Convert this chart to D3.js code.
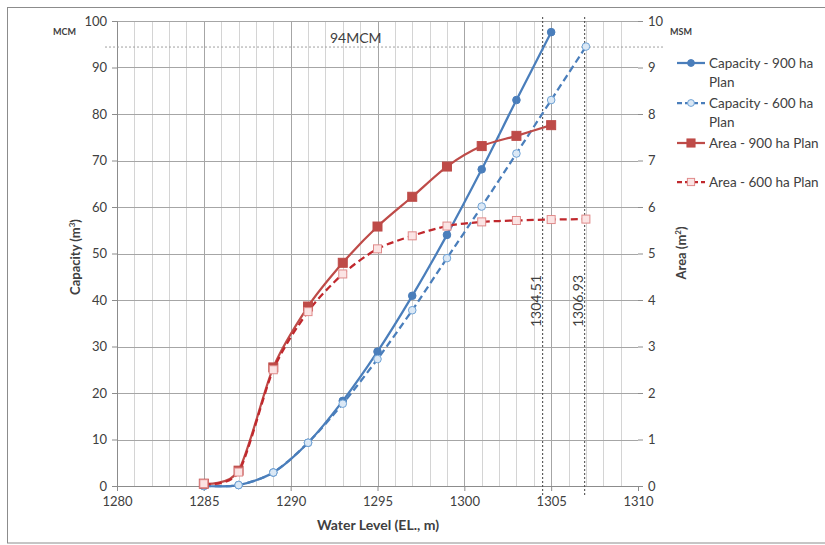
<!DOCTYPE html>
<html>
<head>
<meta charset="utf-8">
<script src="https://cdn.jsdelivr.net/npm/d3@7"></script>
<style>
  body { margin: 0; background: #fff; }
  svg text { font-family: Lato, "Open Sans", sans-serif; fill: #404040; }
</style>
</head>
<body>
<div id="chart"></div>
<script>
var svgWidth = 825;
var svgHeight = 545;

var margin = { top: 21, right: 187, bottom: 59, left: 117 };
var width = svgWidth - margin.left - margin.right;
var height = svgHeight - margin.top - margin.bottom;

// data
var levels = [1285, 1287, 1289, 1291, 1293, 1295, 1297, 1299, 1301, 1303, 1305, 1307];
var capacity900 = [0, 0.2, 2.9, 9.3, 18.3, 28.9, 40.9, 54.0, 68.1, 83.0, 97.6];
var capacity600 = [0, 0.2, 2.9, 9.3, 17.7, 27.3, 37.8, 49.0, 60.1, 71.5, 83.0, 94.5];
var area900 = [0.05, 0.33, 2.55, 3.86, 4.8, 5.58, 6.22, 6.87, 7.31, 7.53, 7.76];
var area600 = [0.05, 0.3, 2.5, 3.75, 4.56, 5.1, 5.38, 5.59, 5.68, 5.71, 5.73, 5.74];

var xTicks = [1280, 1285, 1290, 1295, 1300, 1305, 1310];
var leftTicks = [0, 10, 20, 30, 40, 50, 60, 70, 80, 90, 100];
var rightTicks = [0, 1, 2, 3, 4, 5, 6, 7, 8, 9, 10];
var refCapacity = 94.4;
var refLevels = [1304.51, 1306.93];
var refLevelLabels = ["1304.51", "1306.93"];

var series = [
  { name: ["Capacity - 900 ha", "Plan"], values: capacity900, axis: "left", color: "#4a7ebb", dash: null, marker: "circle", fill: "#4a7ebb", mstroke: "#4a7ebb" },
  { name: ["Capacity - 600 ha", "Plan"], values: capacity600, axis: "left", color: "#4a7ebb", dash: "7,4", marker: "circle", fill: "#dbe8f5", mstroke: "#6fa3d6" },
  { name: ["Area - 900 ha Plan"], values: area900, axis: "right", color: "#be4b48", dash: null, marker: "square", fill: "#be4b48", mstroke: "#be4b48" },
  { name: ["Area - 600 ha Plan"], values: area600, axis: "right", color: "#c0282d", dash: "7,4", marker: "square", fill: "#fbe4e4", mstroke: "#e08a8a" }
];

var svg = d3.select("#chart").append("svg")
    .attr("width", svgWidth)
    .attr("height", svgHeight);

// outer frame
svg.append("rect")
    .attr("x", 7.5).attr("y", 7.5)
    .attr("width", 830).attr("height", 535.5)
    .attr("fill", "none")
    .attr("stroke", "#8c8c8c");

var chartGroup = svg.append("g")
    .attr("transform", `translate(${margin.left}, ${margin.top})`);

var xScale = d3.scaleLinear().domain([1280, 1310]).range([0, width]);
var yLeft = d3.scaleLinear().domain([0, 100]).range([height, 0]);
var yRight = d3.scaleLinear().domain([0, 10]).range([height, 0]);

// vertical grid (minor every 1, major every 5)
chartGroup.append("g").selectAll("line")
    .data(d3.range(1281, 1310))
    .enter().append("line")
    .attr("x1", d => Math.round(xScale(d)) + 0.5)
    .attr("x2", d => Math.round(xScale(d)) + 0.5)
    .attr("y1", 0).attr("y2", height)
    .attr("stroke", d => d % 5 === 0 ? "#a6a6a6" : "#d4d4d4");

// horizontal grid
chartGroup.append("g").selectAll("line")
    .data(leftTicks.slice(1))
    .enter().append("line")
    .attr("x1", 0).attr("x2", width)
    .attr("y1", d => Math.round(yLeft(d)) + 0.5)
    .attr("y2", d => Math.round(yLeft(d)) + 0.5)
    .attr("stroke", "#a6a6a6");

// axes
var bottomAxis = d3.axisBottom(xScale).tickValues(xTicks).tickFormat(d3.format("d")).tickSize(5).tickPadding(6);
var leftAxis = d3.axisLeft(yLeft).tickValues(leftTicks).tickSize(5).tickPadding(5);
var rightAxis = d3.axisRight(yRight).tickValues(rightTicks).tickSize(5).tickPadding(5);

var xAxis = chartGroup.append("g")
    .attr("transform", `translate(0,${height})`)
    .call(bottomAxis);
var yAxisL = chartGroup.append("g").call(leftAxis);
var yAxisR = chartGroup.append("g")
    .attr("transform", `translate(${width},0)`)
    .call(rightAxis);

[xAxis, yAxisL, yAxisR].forEach(function(a) {
  a.selectAll(".domain").attr("stroke", "#8c8c8c");
  a.selectAll(".tick line").attr("stroke", "#8c8c8c");
  a.selectAll("text")
    .attr("font-size", "13px")
    .style("font-family", "Lato, 'Open Sans', sans-serif")
    .attr("fill", "#4d4d4d");
});
yAxisR.select(".domain").remove();

// reference line 94MCM
chartGroup.append("line")
    .attr("x1", -12).attr("x2", width + 25)
    .attr("y1", yLeft(refCapacity)).attr("y2", yLeft(refCapacity))
    .attr("stroke", "#a0a0a0")
    .attr("stroke-dasharray", "2,2");
chartGroup.append("text")
    .attr("x", 213)
    .attr("y", yLeft(refCapacity) - 4)
    .attr("font-size", "14px")
    .attr("fill", "#555")
    .text("94MCM");

// vertical reference levels
refLevels.forEach(function(lv, i) {
  var x = xScale(lv);
  chartGroup.append("line")
      .attr("x1", x).attr("x2", x)
      .attr("y1", -4).attr("y2", height + 9)
      .attr("stroke", "#404040")
      .attr("stroke-dasharray", "2,2");
  chartGroup.append("text")
      .attr("transform", `translate(${x - 2},${306}) rotate(-90)`)
      .attr("text-anchor", "start")
      .attr("font-size", "14px")
      .text(refLevelLabels[i]);
});

// series lines
series.forEach(function(s) {
  var y = s.axis === "left" ? yLeft : yRight;
  var pts = s.values.map((v, i) => [levels[i], v]);
  var line = d3.line()
      .x(d => xScale(d[0]))
      .y(d => y(d[1]))
      .curve(d3.curveCardinal.tension(0.2));
  chartGroup.append("path")
      .datum(pts)
      .attr("d", line)
      .attr("fill", "none")
      .attr("stroke", s.color)
      .attr("stroke-width", 2.25)
      .attr("stroke-dasharray", s.dash);
});

function drawMarker(g, s, cx, cy, scale) {
  if (s.marker === "circle") {
    g.append("circle")
        .attr("cx", cx).attr("cy", cy)
        .attr("r", 3.8 * scale)
        .attr("fill", s.fill)
        .attr("stroke", s.mstroke)
        .attr("stroke-width", 1);
  } else {
    var sz = (s.fill === s.mstroke ? 9 : 8) * scale;
    g.append("rect")
        .attr("x", cx - sz / 2).attr("y", cy - sz / 2)
        .attr("width", sz).attr("height", sz)
        .attr("fill", s.fill)
        .attr("stroke", s.mstroke)
        .attr("stroke-width", 1);
  }
}

series.forEach(function(s) {
  var y = s.axis === "left" ? yLeft : yRight;
  var g = chartGroup.append("g");
  s.values.forEach(function(v, i) {
    drawMarker(g, s, xScale(levels[i]), y(v), 1);
  });
});

// axis titles
svg.append("text")
    .attr("transform", "translate(80,257) rotate(-90)")
    .attr("text-anchor", "middle")
    .attr("font-size", "13px")
    .attr("font-weight", "bold")
    .html("Capacity (m<tspan dy='-5' font-size='8px'>3</tspan><tspan dy='5'>)</tspan>");
svg.append("text")
    .attr("transform", "translate(686,253) rotate(-90)")
    .attr("text-anchor", "middle")
    .attr("font-size", "13px")
    .attr("font-weight", "bold")
    .html("Area (m<tspan dy='-5' font-size='8px'>2</tspan><tspan dy='5'>)</tspan>");
svg.append("text")
    .attr("x", 378).attr("y", 530)
    .attr("text-anchor", "middle")
    .attr("font-size", "14px")
    .attr("font-weight", "bold")
    .text("Water Level (EL., m)");
svg.append("text")
    .attr("x", 53).attr("y", 35)
    .attr("font-size", "9px")
    .attr("font-weight", "bold")
    .text("MCM");
svg.append("text")
    .attr("x", 670).attr("y", 35)
    .attr("font-size", "9px")
    .attr("font-weight", "bold")
    .text("MSM");

// legend
var legendY = [63, 103, 143, 182];
var legend = svg.append("g");
series.forEach(function(s, i) {
  var ly = legendY[i];
  legend.append("line")
      .attr("x1", 677).attr("x2", 705)
      .attr("y1", ly).attr("y2", ly)
      .attr("stroke", s.color)
      .attr("stroke-width", 2.25)
      .attr("stroke-dasharray", s.dash ? "5,3" : null);
  drawMarker(legend, s, 691, ly, 0.9);
  s.name.forEach(function(t, j) {
    legend.append("text")
        .attr("x", 709)
        .attr("y", ly + 5 + j * 19)
        .attr("font-size", "13.5px")
        .text(t);
  });
});
</script>
</body>
</html>
